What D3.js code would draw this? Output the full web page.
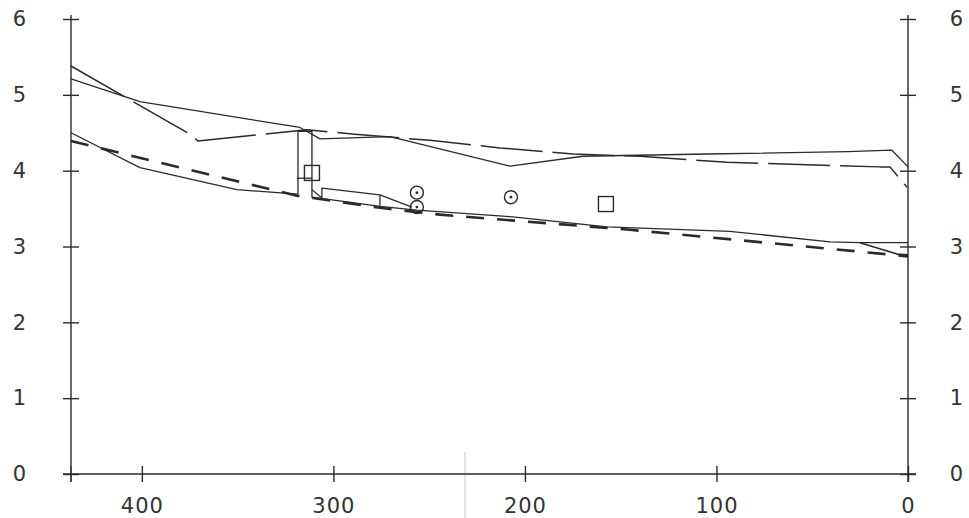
<!DOCTYPE html>
<html>
<head>
<meta charset="utf-8">
<script src="https://cdn.jsdelivr.net/npm/d3@7"></script>
<style>
  body { margin: 0; background: #fff; }
  svg { display: block; }
  .tick text { font-family: "DejaVu Sans", sans-serif; font-size: 21px; letter-spacing: 1px; fill: #333; }
</style>
</head>
<body>
<div id="chart-container"></div>
<script>
// data: [age, value]
const longDash = [[437, 5.38], [373.4, 4.46], [370.8, 4.39], [313.8, 4.54], [288.8, 4.48],
  [249.6, 4.40], [213.1, 4.30], [174.9, 4.22], [139.9, 4.19], [94.5, 4.11], [14.6, 4.05],
  [9.4, 4.05], [0.5, 3.78]];
const upperSolid = [[437, 5.21], [401, 4.91], [317.5, 4.57], [313.3, 4.51], [307, 4.42],
  [270.5, 4.45], [207.8, 4.06], [169.7, 4.19], [105, 4.22], [31.3, 4.25], [8.4, 4.27], [0, 4.05]];
const lowerSolid = [[437, 4.50], [401, 4.04], [350.4, 3.75], [318.5, 3.69], [318.5, 4.52],
  [311.2, 4.52], [311.2, 3.65], [275.7, 3.53], [256.4, 3.48], [206.3, 3.39], [157.2, 3.26],
  [93, 3.20], [40.7, 3.06], [25.1, 3.05], [0, 3.05]];
const heavyDash = [[437, 4.39], [319.1, 3.67], [310.7, 3.64], [275.7, 3.51], [244.4, 3.42],
  [145.2, 3.22], [40.7, 2.97], [0, 2.87]];
const endSolid = [[25.1, 3.05], [5.7, 2.90], [0, 2.89]];
const sawtooth = [[311.2, 3.75], [306, 3.64], [306, 3.77], [275.7, 3.68], [275.7, 3.51]];
const sawtoothTail = [[275.7, 3.68], [259, 3.52]];
const shortBar = [[319.1, 3.90], [311.2, 3.90]];
const circlePoints = [[256.4, 3.71], [256.4, 3.52], [207.3, 3.65]];
const squarePoints = [[311.2, 3.97], [157.7, 3.56]];
const xTicks = [400, 300, 200, 100, 0];
const yTicks = [0, 1, 2, 3, 4, 5, 6];

const W = 969, H = 518;
const ink = "#2a2a2a";

const xScale = d3.scaleLinear().domain([437, 0]).range([71, 908]);
const yScale = d3.scaleLinear().domain([0, 6]).range([474, 19]);

const svg = d3.select("#chart-container").append("svg")
  .attr("width", W).attr("height", H);

// faint scan line near the bottom
svg.append("line")
  .attr("x1", 465).attr("x2", 465).attr("y1", 452).attr("y2", H)
  .attr("stroke", "#c8c8c8").attr("stroke-width", 1);

// left axis
const gLeft = svg.append("g")
  .attr("transform", `translate(${xScale(437)},0)`)
  .call(d3.axisLeft(yScale).tickValues(yTicks).tickSize(8).tickSizeOuter(0).tickFormat(d3.format("d")));
gLeft.selectAll(".tick").append("line").attr("x2", 8).attr("stroke", ink);
gLeft.selectAll(".tick text").attr("x", -51).attr("text-anchor", "middle");

// right axis
const gRight = svg.append("g")
  .attr("transform", `translate(${xScale(0)},0)`)
  .call(d3.axisRight(yScale).tickValues(yTicks).tickSize(8).tickSizeOuter(0).tickFormat(d3.format("d")));
gRight.selectAll(".tick").append("line").attr("x2", -8).attr("stroke", ink);
gRight.selectAll(".tick text").attr("x", 49).attr("text-anchor", "middle");

// bottom axis
const gBottom = svg.append("g")
  .attr("transform", `translate(0,${yScale(0)})`)
  .call(d3.axisBottom(xScale).tickValues(xTicks).tickSize(8).tickSizeOuter(0).tickFormat(d3.format("d")));
gBottom.selectAll(".tick").append("line").attr("y2", -8).attr("stroke", ink);
gBottom.selectAll(".tick text").attr("y", 24);
gBottom.append("line")
  .attr("x1", xScale(437)).attr("x2", xScale(437)).attr("y1", -8).attr("y2", 8)
  .attr("stroke", ink);

[gLeft, gRight, gBottom].forEach((g) => {
  g.select(".domain").attr("stroke", ink).attr("stroke-width", 1.4);
  g.selectAll(".tick line").attr("stroke", ink).attr("stroke-width", 1.4);
});
gLeft.select(".domain").attr("d", `M0,${yScale(6) - 4}V${yScale(0) + 8}`);
gRight.select(".domain").attr("d", `M0,${yScale(6) - 4}V${yScale(0) + 8}`);
gBottom.select(".domain").attr("d", `M${xScale(437) - 8},0H${xScale(0) + 8}`);

// lines
const line = d3.line().x((d) => xScale(d[0])).y((d) => yScale(d[1]));

function drawLine(data, width, dash) {
  svg.append("path")
    .datum(data)
    .attr("fill", "none")
    .attr("stroke", ink)
    .attr("stroke-width", width)
    .attr("stroke-linejoin", "round")
    .attr("stroke-dasharray", dash)
    .attr("d", line);
}

drawLine(longDash, 1.5, "62,10");
drawLine(upperSolid, 1.3, null);
drawLine(lowerSolid, 1.3, null);
drawLine(heavyDash, 2.6, "18,13");
drawLine(endSolid, 1.6, null);
drawLine(sawtooth, 1.3, null);
drawLine(sawtoothTail, 1.3, null);
drawLine(shortBar, 1.3, null);

// markers
svg.selectAll(".circ")
  .data(circlePoints)
  .join("circle")
  .attr("class", "circ")
  .attr("cx", (d) => xScale(d[0]))
  .attr("cy", (d) => yScale(d[1]))
  .attr("r", 6.5)
  .attr("fill", "none")
  .attr("stroke", ink)
  .attr("stroke-width", 1.4);

svg.selectAll(".dot")
  .data(circlePoints)
  .join("circle")
  .attr("class", "dot")
  .attr("cx", (d) => xScale(d[0]))
  .attr("cy", (d) => yScale(d[1]))
  .attr("r", 1.4)
  .attr("fill", ink);

svg.selectAll(".sq")
  .data(squarePoints)
  .join("rect")
  .attr("class", "sq")
  .attr("x", (d) => xScale(d[0]) - 7.5)
  .attr("y", (d) => yScale(d[1]) - 7.5)
  .attr("width", 15)
  .attr("height", 15)
  .attr("fill", "none")
  .attr("stroke", ink)
  .attr("stroke-width", 1.4);
</script>
</body>
</html>
